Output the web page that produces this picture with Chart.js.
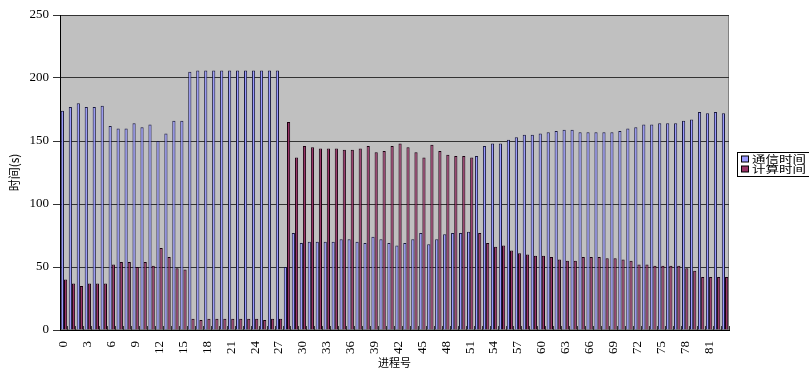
<!DOCTYPE html>
<html>
<head>
<meta charset="utf-8">
<script src="https://cdn.jsdelivr.net/npm/chart.js@4/dist/chart.umd.min.js"></script>
<style>
  html, body { margin: 0; padding: 0; background: #ffffff; overflow: hidden; }
  #wrap { width: 809px; height: 376px; position: relative; }
</style>
</head>
<body>
<div id="wrap"><canvas id="c" width="809" height="376"></canvas></div>
<script>
// Process ids 0..83
const processIds = Array.from({ length: 84 }, (_, i) => String(i));

const seriesNames = ['通信时间', '计算时间'];

// Communication time per process (s)
const commTime = [
  174, 177, 180, 177, 177, 178, 162, 160, 160, 164, 161, 163, 150, 156, 166, 166,
  205, 206, 206, 206, 206, 206, 206, 206, 206, 206, 206, 206,
  50, 77, 69, 70, 70, 70, 70, 72, 72, 70, 69, 74, 72, 69, 67, 69, 72, 77, 68, 72, 76, 77, 77, 78,
  138, 146, 148, 148, 151, 153, 155, 155, 156, 157, 158, 159, 159, 157, 157, 157, 157, 157,
  158, 160, 161, 163, 163, 164, 164, 164, 166, 167, 173, 172, 173, 172
];

// Computation time per process (s)
const compTime = [
  40, 37, 35, 37, 37, 37, 52, 54, 54, 50, 54, 51, 65, 58, 49, 48,
  9, 8, 9, 9, 9, 9, 9, 9, 9, 8, 9, 9,
  165, 137, 146, 145, 144, 144, 144, 143, 143, 144, 146, 141, 142, 146, 148, 145, 141, 137, 147, 142, 139, 138, 138, 137,
  77, 69, 66, 67, 63, 61, 60, 59, 59, 58, 56, 55, 55, 58, 58, 58, 57, 57,
  56, 55, 52, 52, 51, 51, 51, 51, 49, 47, 42, 42, 42, 42
];

const yTicks = [0, 50, 100, 150, 200, 250];
const xAxisTitle = '进程号';
const yAxisTitle = '时间(s)';

const seriesColors = ['#9999FF', '#993366'];

// Grey plot area with a thin frame
const plotBackground = {
  id: 'plotBackground',
  beforeDraw(chart) {
    const { ctx, chartArea: a } = chart;
    ctx.save();
    ctx.fillStyle = '#C0C0C0';
    ctx.fillRect(a.left, a.top, a.right - a.left, a.bottom - a.top);
    ctx.strokeStyle = '#808080';
    ctx.lineWidth = 1;
    ctx.strokeRect(a.left + 0.5, a.top + 0.5, a.right - a.left - 1, a.bottom - a.top - 1);
    ctx.restore();
  }
};

// Boxed legend to the right of the plot (wide glyphs, running off the edge)
const boxLegend = {
  id: 'boxLegend',
  afterDraw(chart) {
    const { ctx } = chart;
    const x = 737.5, y = 152.5, w = 100, h = 24;
    ctx.save();
    ctx.fillStyle = '#ffffff';
    ctx.fillRect(x, y, w, h);
    ctx.strokeStyle = '#000000';
    ctx.lineWidth = 1;
    ctx.strokeRect(x, y, w, h);
    chart.data.datasets.forEach((ds, i) => {
      const cy = 159 + i * 10;
      ctx.fillStyle = ds.backgroundColor;
      ctx.fillRect(741.5, cy - 3, 7, 6);
      ctx.strokeStyle = '#000000';
      ctx.strokeRect(741.5, cy - 3, 7, 6);
      ctx.save();
      ctx.translate(752, cy + 0.5);
      ctx.scale(1.35, 1);
      ctx.font = '10px "Noto Sans CJK SC"';
      ctx.textAlign = 'left';
      ctx.textBaseline = 'middle';
      ctx.fillStyle = '#000000';
      ctx.fillText(ds.label, 0, 0);
      ctx.restore();
    });
    ctx.restore();
  }
};

new Chart(document.getElementById('c'), {
  type: 'bar',
  data: {
    labels: processIds,
    datasets: [
      {
        label: seriesNames[0],
        data: commTime,
        backgroundColor: seriesColors[0],
        borderColor: '#1a1a40',
        borderWidth: 1
      },
      {
        label: seriesNames[1],
        data: compTime,
        backgroundColor: seriesColors[1],
        borderColor: '#1a0010',
        borderWidth: 1
      }
    ]
  },
  options: {
    responsive: false,
    animation: false,
    layout: { padding: { top: 15, right: 80, left: 0, bottom: 0 } },
    datasets: { bar: { categoryPercentage: 0.8, barPercentage: 1.0 } },
    plugins: {
      legend: { display: false },
      tooltip: { enabled: false }
    },
    scales: {
      x: {
        afterFit(scale) { scale.height = 46; },
        grid: {
          display: true,
          drawOnChartArea: false,
          drawTicks: true,
          tickLength: -4,
          color: '#333333'
        },
        border: { display: true, color: '#000000', width: 1 },
        ticks: {
          autoSkip: false,
          minRotation: 90,
          maxRotation: 90,
          padding: 15,
          color: '#000000',
          font: { family: '"Liberation Serif"', size: 13 },
          callback(value, index) {
            return index % 3 === 0 ? processIds[index] : '';
          }
        },
        title: {
          display: true,
          text: xAxisTitle,
          color: '#000000',
          font: { family: '"Noto Sans CJK SC"', size: 11 },
          padding: { top: 0, bottom: 7 }
        }
      },
      y: {
        min: 0,
        max: 250,
        afterFit(scale) { scale.width = 60; },
        afterBuildTicks(scale) { scale.ticks = yTicks.map(v => ({ value: v })); },
        grid: {
          color: '#333333',
          lineWidth: 1,
          drawTicks: true,
          tickLength: 7
        },
        border: { display: true, color: '#000000', width: 1 },
        ticks: {
          padding: 4,
          color: '#000000',
          font: { family: '"Liberation Serif"', size: 13 }
        },
        title: {
          display: true,
          text: yAxisTitle,
          color: '#000000',
          font: { family: '"Noto Sans CJK SC"', size: 12 },
          padding: { top: 7, bottom: 0 }
        }
      }
    }
  },
  plugins: [plotBackground, boxLegend]
});
</script>
</body>
</html>
